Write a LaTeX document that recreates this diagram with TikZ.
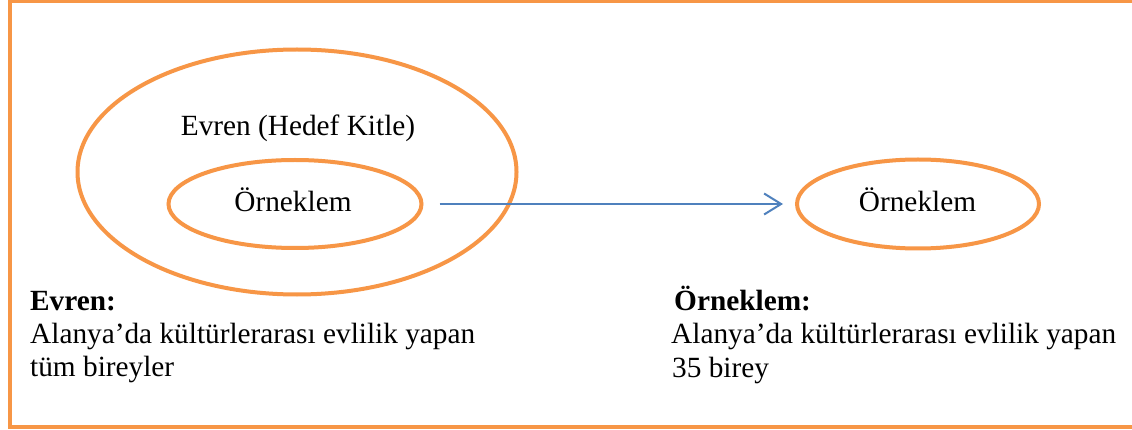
\documentclass[tikz,border=0pt]{standalone}
\usepackage{fontspec}
\setmainfont{Liberation Serif}
\usetikzlibrary{shapes.geometric,arrows.meta}
\definecolor{borderorange}{HTML}{F79646}
\definecolor{arrowblue}{HTML}{4F81BD}
\tikzset{
  oval/.style={ellipse, draw=borderorange, line width=4pt, inner sep=0pt},
  txt/.style={inner sep=0pt, font=\fontsize{29.3}{32}\selectfont},
  link/.style={draw=arrowblue, line width=2pt, -{Straight Barb[length=17pt,width=21pt,line width=2pt]}}
}
\begin{document}
\begin{tikzpicture}[x=1pt,y=-1pt]
\useasboundingbox (0,0) rectangle (1132,430);
\clip (0,0) rectangle (1132,430);
\fill[white] (0,0) rectangle (1132,430);
\draw[borderorange, line width=4pt] (10,1.5) rectangle (1145,427);
% ellipses
\node[oval, minimum width=439pt, minimum height=245pt] (evren) at (297,172) {};
\node[oval, minimum width=253pt, minimum height=88pt] (ornek) at (295,204) {};
\node[oval, minimum width=242pt, minimum height=89pt] (ornek2) at (918,204) {};
% labels in ellipses
\node[txt, anchor=base] (evrenlbl) at (298,136) {Evren (Hedef Kitle)};
\node[txt, anchor=base] (orneklbl) at (293,212) {Örneklem};
\node[txt, anchor=base] (ornek2lbl) at (917.5,212) {Örneklem};
% arrow
\draw[link, shorten <=16pt, shorten >=12pt] (ornek.east) -- (ornek2.west);
% bottom texts
\node[txt, anchor=base west, font=\fontsize{29.3}{32}\selectfont\bfseries] (t1) at (30,310) {Evren:};
\node[txt, anchor=base west] (t2) at (30,343) {Alanya’da kültürlerarası evlilik yapan};
\node[txt, anchor=base west] (t3) at (30,376) {tüm bireyler};
\node[txt, anchor=base west, font=\fontsize{29.3}{32}\selectfont\bfseries] (t4) at (674,310) {Örneklem:};
\node[txt, anchor=base west] (t5) at (671,343) {Alanya’da kültürlerarası evlilik yapan};
\node[txt, anchor=base west] (t6) at (672,377) {35 birey};
\end{tikzpicture}
\end{document}
